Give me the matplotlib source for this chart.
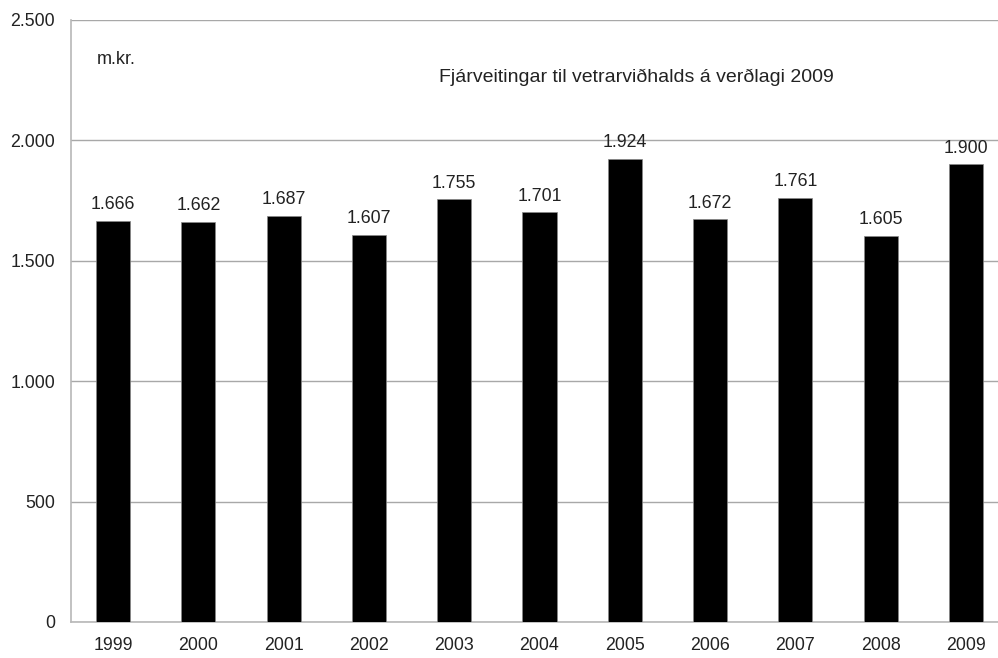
import matplotlib.pyplot as plt
from matplotlib.ticker import FuncFormatter

plt.rcParams['font.family'] = ['Liberation Sans', 'DejaVu Sans']

years = ['1999', '2000', '2001', '2002', '2003', '2004', '2005', '2006', '2007', '2008', '2009']
values = [1666, 1662, 1687, 1607, 1755, 1701, 1924, 1672, 1761, 1605, 1900]
yticks = [0, 500, 1000, 1500, 2000, 2500]


def dotted(v):
    # Icelandic thousands separator
    return f"{int(v):,}".replace(",", ".")


fig = plt.figure(figsize=(9.98, 6.58), dpi=100)
ax = fig.add_axes([70.5 / 998, 36 / 658, 938 / 998, 602 / 658])

x = list(range(len(years)))
ax.bar(x, values, width=0.4, color='black', edgecolor='#888888', linewidth=0.5, zorder=3)

for xi, v in zip(x, values):
    ax.annotate(dotted(v), (xi, v), xytext=(0, 5.5), textcoords='offset points',
                ha='center', va='bottom', fontsize=12.8, color='#222222')

ax.set_xlim(-0.5, len(years) - 0.5)
ax.set_ylim(0, 2500)
ax.set_yticks(yticks)
ax.yaxis.set_major_formatter(FuncFormatter(lambda v, p: dotted(v)))
ax.set_xticks(x)
ax.set_xticklabels(years)
ax.tick_params(axis='both', length=0, labelsize=12.8, colors='#222222')
ax.tick_params(axis='x', pad=11)
ax.tick_params(axis='y', pad=11)

ax.grid(axis='y', color='#a8a8a8', linewidth=1.0, zorder=0)
ax.spines['top'].set_visible(False)
ax.spines['right'].set_visible(False)
for s in ('left', 'bottom'):
    ax.spines[s].set_color('#b8b8b8')
    ax.spines[s].set_linewidth(1.2)

ax.text(0.028, 0.935, 'm.kr.', transform=ax.transAxes, fontsize=13, color='#222222',
        va='center', ha='left')
ax.text(0.603, 0.905, 'Fjárveitingar til vetrarviðhalds á verðlagi 2009', transform=ax.transAxes,
        fontsize=14, color='#222222', va='center', ha='center')

fig.savefig('out.png', dpi=100)
